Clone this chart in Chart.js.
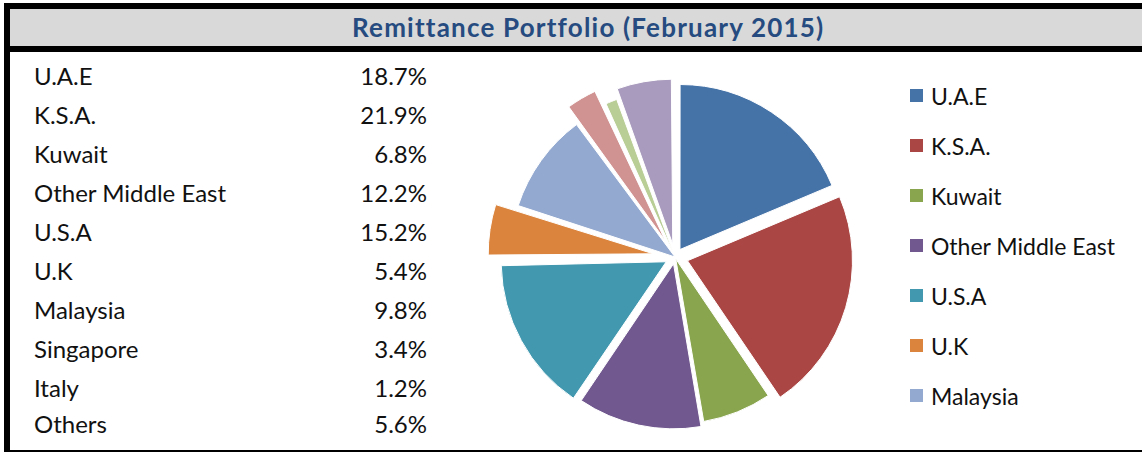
<!DOCTYPE html>
<html>
<head>
<meta charset="utf-8">
<script src="https://cdn.jsdelivr.net/npm/chart.js@4.4.1/dist/chart.umd.min.js"></script>
<style>
  html, body { margin:0; padding:0; background:#fff; }
  body { width:1142px; height:452px; position:relative; overflow:hidden; font-family:"Lato", sans-serif; color:#111; }
  .blk { position:absolute; background:#000; }
  #titlebar { position:absolute; left:10px; top:9px; width:1132px; height:37px; background:#d9d9d9; }
  #title { position:absolute; top:9px; height:37px; line-height:37px; left:352px; width:470px; text-align:center;
           font-weight:bold; font-size:26px; letter-spacing:1.2px; color:#254b80; white-space:nowrap; }
  .row { position:absolute; font-size:24px; line-height:24px; white-space:nowrap; }
  .lab { left:34px; }
  .val { left:300px; width:127px; text-align:right; }
  .leg { position:absolute; left:910px; height:24px; white-space:nowrap; font-size:23px; line-height:24px; }
  .leg span.box { position:absolute; left:0; top:5px; width:13px; height:13px; }
  .leg span.txt { position:absolute; left:21px; top:0; }
  #pieWrap { position:absolute; left:485px; top:67px; width:380px; height:380px; }
</style>
</head>
<body>
<div class="blk" style="left:4px;top:3px;width:1138px;height:6px;"></div>
<div id="titlebar"></div>
<div class="blk" style="left:4px;top:46px;width:1138px;height:6px;"></div>
<div class="blk" style="left:4px;top:3px;width:6px;height:449px;"></div>
<div class="blk" style="left:4px;top:450px;width:1138px;height:2px;"></div>
<div id="title">Remittance Portfolio (February 2015)</div>
<div id="table"></div>
<div id="legend"></div>
<div id="pieWrap"><canvas id="pie" width="380" height="380"></canvas></div>
<script>
const categories = ['U.A.E','K.S.A.','Kuwait','Other Middle East','U.S.A','U.K','Malaysia','Singapore','Italy','Others'];
const shares = [18.7, 21.9, 6.8, 12.2, 15.2, 5.4, 9.8, 3.4, 1.2, 5.6];
const sliceColors = ['#4572a7','#aa4643','#89a54e','#71588f','#4198af','#db843d','#93a9cf','#d19392','#b9cd96','#a99bbd'];
const legendShown = 7;

// left-hand table
const table = document.getElementById('table');
categories.forEach((c, i) => {
  const top = (i < 9 ? 64 + i * 39 : 64 + 8 * 39 + 36);
  const a = document.createElement('div'); a.className = 'row lab'; a.style.top = top + 'px'; a.textContent = c;
  const b = document.createElement('div'); b.className = 'row val'; b.style.top = top + 'px'; b.textContent = shares[i].toFixed(1) + '%';
  table.appendChild(a); table.appendChild(b);
});

// legend (only the first items fit in the original)
const legend = document.getElementById('legend');
categories.slice(0, legendShown).forEach((c, i) => {
  const d = document.createElement('div'); d.className = 'leg'; d.style.top = (84 + i * 50) + 'px';
  const bx = document.createElement('span'); bx.className = 'box'; bx.style.background = sliceColors[i];
  const tx = document.createElement('span'); tx.className = 'txt'; tx.textContent = c;
  d.appendChild(bx); d.appendChild(tx); legend.appendChild(d);
});

// explosion distance of each slice, in px
const explodePx = [9, 13, 2, 7, 10, 22, 0, 19, 3, 13];
const PIE_R = 165;

// Chart.js translates an arc by offset/4 and also grows thin slices' radius;
// keep every slice at the same radius so only the explosion shows.
const equalRadius = {
  id: 'equalRadius',
  afterDatasetsUpdate(chart) {
    const meta = chart.getDatasetMeta(0);
    meta.data.forEach((arc, i) => {
      const o = explodePx[i];
      const circ = arc.circumference;
      const fix = 1 - Math.sin(Math.min(Math.PI, circ || 0));
      arc.outerRadius = PIE_R - o * fix;
    });
  }
};

new Chart(document.getElementById('pie'), {
  type: 'pie',
  data: {
    labels: categories,
    datasets: [{
      data: shares,
      backgroundColor: sliceColors,
      borderColor: '#ffffff',
      borderWidth: 1,
      offset: explodePx.map(v => v * 4)
    }]
  },
  options: {
    responsive: false,
    animation: false,
    radius: PIE_R,
    layout: { padding: 0 },
    plugins: { legend: { display: false }, tooltip: { enabled: false }, title: { display: false } },
    events: []
  },
  plugins: [equalRadius]
});
</script>
</body>
</html>
